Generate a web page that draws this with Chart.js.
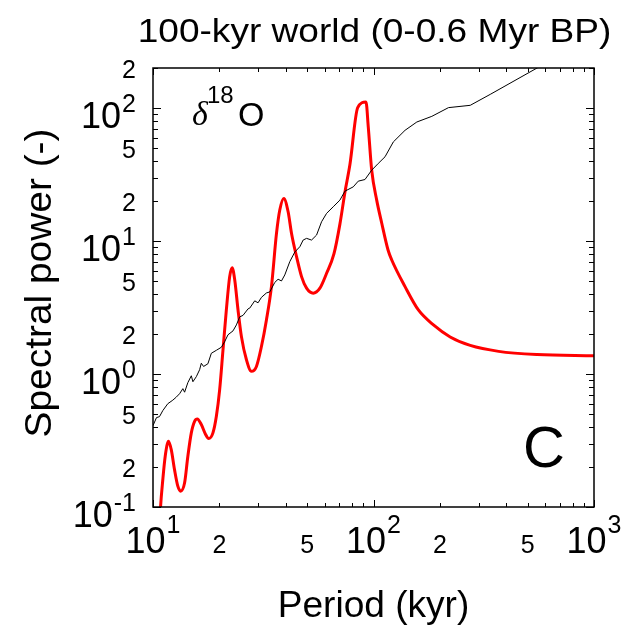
<!DOCTYPE html>
<html>
<head>
<meta charset="utf-8">
<script src="https://cdn.jsdelivr.net/npm/chart.js@4.4.1/dist/chart.umd.min.js"></script>
<style>
  html, body { margin: 0; padding: 0; background: #ffffff; }
  #wrap { width: 624px; height: 627px; }
</style>
</head>
<body>
<div id="wrap"><canvas id="c" width="624" height="627"></canvas></div>
<script>
// Spectrum of the benthic d18O record (thin black) and the model spectrum (thick red)
const periodRecord = [10.0, 10.37, 10.7, 11.08, 11.67, 12.3, 12.75, 13.2, 13.66, 13.91, 14.39, 14.92, 15.17, 15.72,
  16.27, 16.56, 16.96, 17.74, 18.39, 19.38, 20.42, 21.13, 21.88, 23.06, 23.89, 24.73, 25.6, 26.98, 27.46, 28.93,
  29.95, 31.03, 32.69, 33.84, 35.66, 36.92, 38.25, 39.6, 41.73, 43.97, 46.34, 47.97, 49.71, 52.37, 55.18, 58.14,
  61.27, 65.67, 70.41, 74.21, 80.95, 85.29, 91.49, 98.13, 105.1, 112.8, 123.0, 139.0, 157.2, 183.9, 218.8, 274.6,
  338.4, 551.8, 1000];
const powerRecord = [0.409, 0.47, 0.478, 0.531, 0.598, 0.636, 0.67, 0.711, 0.776, 0.73, 0.861, 0.97, 0.875, 0.955,
  1.077, 1.205, 1.14, 1.194, 1.432, 1.508, 1.589, 1.747, 1.972, 2.11, 2.34, 2.69, 2.76, 3.09, 3.13, 3.55,
  3.43, 3.77, 4.07, 4.14, 4.88, 5.16, 5.01, 5.56, 7.0, 8.27, 9.06, 10.17, 10.47, 10.17, 11.09, 13.96,
  16.14, 18.09, 20.3, 23.7, 25.55, 28.2, 29.0, 34.1, 38.3, 43.0, 55.6, 68.0, 78.5, 86.6, 100.7, 104.8,
  126.7, 200, 348];

const periodModel = [10.74, 10.82, 11.08, 11.36, 11.76, 12.1, 12.52, 12.96, 13.34, 13.91, 14.39, 14.92, 15.44, 15.88,
  16.56, 17.32, 17.88, 18.7, 19.38, 20.06, 20.77, 21.51, 22.27, 22.85, 23.48, 24.3, 25.18, 26.53, 27.95, 29.45,
  31.03, 32.69, 34.45, 36.31, 37.58, 39.19, 41.0, 42.49, 44.77, 47.17, 49.71, 53.27, 57.13, 61.27, 66.15, 70.41,
  74.21, 78.21, 84.78, 92.46, 94.7, 98.13, 103.4, 109.0, 116.4, 121.0, 139.0, 159.8, 187.0, 222.7, 274.6, 369.3,
  551.8, 1000];
const powerModel = [0.078, 0.1, 0.161, 0.241, 0.312, 0.27, 0.191, 0.1435, 0.1316, 0.152, 0.241, 0.361, 0.441, 0.459,
  0.417, 0.351, 0.327, 0.361, 0.481, 0.762, 1.52, 3.03, 5.4, 6.3, 5.1, 3.03, 1.91, 1.28, 1.047, 1.14,
  1.61, 2.55, 4.54, 11.4, 17.1, 20.9, 16.6, 11.4, 7.63, 5.4, 4.42, 4.05, 4.42, 5.72, 7.99, 13.4,
  23.3, 37.8, 100.7, 110.9, 72.0, 34.1, 20.3, 13.6, 8.56, 7.2, 4.54, 3.03, 2.34, 1.9, 1.64, 1.48,
  1.4, 1.37];

// Labelled ticks; "^" marks a power-of-ten exponent
const xTickValues = [10, 20, 50, 100, 200, 500, 1000];
const xTickLabels = ['10^1', '2', '5', '10^2', '2', '5', '10^3'];
const yTickValues = [0.1, 0.2, 0.5, 1, 2, 5, 10, 20, 50, 100, 200];
const yTickLabels = ['10^-1', '2', '5', '10^0', '2', '5', '10^1', '2', '5', '10^2', '2'];

const titleText = '100-kyr world (0-0.6 Myr BP)';
const xTitle = 'Period (kyr)';
const yTitle = 'Spectral power (-)';
const panelLetter = 'C';

const SANS = '"Liberation Sans", Arial, Helvetica, sans-serif';
const SERIF = '"Liberation Serif", "Times New Roman", serif';

function pairs(xs, ys) { return xs.map((x, i) => ({ x: x, y: ys[i] })); }

// Log-axis tick values (1..9 x 10^k) inside [min, max]
function logTicks(min, max) {
  const out = [];
  for (let e = Math.floor(Math.log10(min)) - 1; e <= Math.ceil(Math.log10(max)); e++) {
    for (let m = 1; m <= 9; m++) {
      const v = m * Math.pow(10, e);
      if (v >= min * 0.9999 && v <= max * 1.0001) out.push({ v: v, major: m === 1 });
    }
  }
  return out;
}

// Centered text, widened along its own direction by sx
function wideText(ctx, text, x, y, size, sx, angle) {
  ctx.save();
  ctx.translate(x, y);
  if (angle) ctx.rotate(angle);
  ctx.scale(sx, 1);
  ctx.font = size + 'px ' + SANS;
  ctx.textAlign = 'center';
  ctx.textBaseline = 'alphabetic';
  ctx.fillText(text, 0, 0);
  ctx.restore();
}

function drawPowerLabel(ctx, text, x, y, align, baseSize, supSize, supRise) {
  const parts = text.split('^');
  ctx.textBaseline = 'alphabetic';
  ctx.textAlign = 'left';
  if (parts.length === 1) {
    ctx.font = supSize + 'px ' + SANS;
    const w = ctx.measureText(parts[0]).width;
    const left = align === 'center' ? x - w / 2 : x - w;
    ctx.fillText(parts[0], left, y);
    return;
  }
  ctx.font = baseSize + 'px ' + SANS;
  const wb = ctx.measureText(parts[0]).width;
  ctx.font = supSize + 'px ' + SANS;
  const ws = ctx.measureText(parts[1]).width;
  const total = wb + ws + 1;
  const left = align === 'center' ? x - total / 2 : x - total;
  ctx.font = baseSize + 'px ' + SANS;
  ctx.fillText(parts[0], left, y);
  ctx.font = supSize + 'px ' + SANS;
  ctx.fillText(parts[1], left + wb + 1, y - supRise);
}

const framePlugin = {
  id: 'logFrame',
  afterDatasetsDraw(chart) {
    const ctx = chart.ctx;
    const a = chart.chartArea;
    const xs = chart.scales.x, ys = chart.scales.y;
    ctx.save();
    ctx.strokeStyle = '#000';
    ctx.fillStyle = '#000';

    // inward tick marks on all four sides
    ctx.lineWidth = 1;
    ctx.beginPath();
    logTicks(xs.min, xs.max).forEach(t => {
      const px = Math.round(xs.getPixelForValue(t.v)) + 0.5;
      const len = t.major ? 7 : 4;
      ctx.moveTo(px, a.bottom); ctx.lineTo(px, a.bottom - len);
      ctx.moveTo(px, a.top); ctx.lineTo(px, a.top + len);
    });
    logTicks(ys.min, ys.max).forEach(t => {
      const py = Math.round(ys.getPixelForValue(t.v)) + 0.5;
      const len = t.major ? 8 : 5;
      ctx.moveTo(a.left, py); ctx.lineTo(a.left + len, py);
      ctx.moveTo(a.right, py); ctx.lineTo(a.right - len, py);
    });
    ctx.stroke();

    // frame
    ctx.lineWidth = 1.5;
    ctx.strokeRect(a.left, a.top, a.right - a.left, a.bottom - a.top);

    // tick labels
    xTickValues.forEach((v, i) => {
      const px = xs.getPixelForValue(v);
      drawPowerLabel(ctx, xTickLabels[i], px, a.bottom + 46, 'center', 36, 25, 20);
    });
    yTickValues.forEach((v, i) => {
      const py = ys.getPixelForValue(v);
      const lab = yTickLabels[i];
      if (lab.indexOf('^') >= 0) {
        drawPowerLabel(ctx, lab, a.left - 17, py + 20, 'right', 36, 25, 16);
      } else {
        drawPowerLabel(ctx, lab, a.left - 17, py + 10, 'right', 36, 25, 0);
      }
    });

    // axis titles and main title
    wideText(ctx, xTitle, (a.left + a.right) / 2, 617, 36, 1.03, 0);
    wideText(ctx, yTitle, 51, 283, 36, 1.08, -Math.PI / 2);
    wideText(ctx, titleText, 374.5, 42, 34, 1.09, 0);

    // series label: delta-18-O
    ctx.textAlign = 'left';
    ctx.textBaseline = 'alphabetic';
    ctx.font = 'italic 34px ' + SERIF;
    ctx.fillText('\u03B4', 192, 125);
    ctx.font = '24px ' + SANS;
    ctx.fillText('18', 207, 103);
    ctx.font = '34px ' + SANS;
    ctx.fillText('O', 238, 126);

    // panel letter
    ctx.font = '58px ' + SANS;
    ctx.fillText(panelLetter, 523, 467);
    ctx.restore();
  }
};

new Chart(document.getElementById('c'), {
  type: 'line',
  data: {
    datasets: [
      {
        label: 'record',
        data: pairs(periodRecord, powerRecord),
        borderColor: '#000000',
        borderWidth: 1,
        pointRadius: 0,
        tension: 0,
        fill: false,
        clip: 0
      },
      {
        label: 'model',
        data: pairs(periodModel, powerModel),
        borderColor: '#ff0000',
        borderWidth: 3,
        pointRadius: 0,
        cubicInterpolationMode: 'monotone',
        fill: false,
        clip: 0
      }
    ]
  },
  options: {
    responsive: false,
    animation: false,
    devicePixelRatio: 1,
    layout: { padding: { left: 153, right: 30, top: 68, bottom: 120 } },
    plugins: { legend: { display: false }, tooltip: { enabled: false }, title: { display: false } },
    scales: {
      x: { type: 'logarithmic', min: 10, max: 1000, display: false },
      y: { type: 'logarithmic', min: 0.1, max: 200, display: false }
    }
  },
  plugins: [framePlugin]
});
</script>
</body>
</html>
